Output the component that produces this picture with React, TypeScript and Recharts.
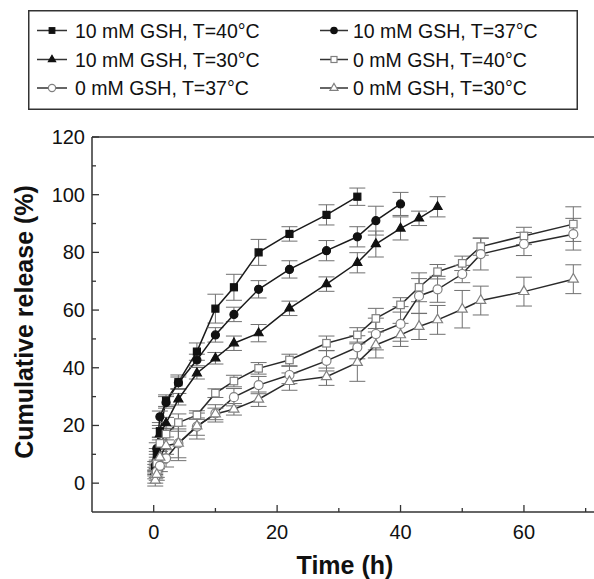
import React from "react";
import {
  LineChart,
  Line,
  XAxis,
  YAxis,
  ErrorBar,
  Legend,
  ReferenceLine,
} from "recharts";

const FONT = "'Liberation Sans', Arial, Helvetica, sans-serif";

// sampling times (h); shorter series use the first N entries
const times = [0.25, 0.5, 1, 2, 4, 7, 10, 13, 17, 22, 28, 33, 36, 40, 43, 46, 50, 53, 60, 68];

const gsh10_40 = [5, 10, 18, 28.6, 35, 45.6, 60.5, 67.9, 80, 86.4, 93, 99.3];
const gsh10_37 = [6, 12, 23, 28, 34.8, 42.7, 51.4, 58.5, 67.2, 74.1, 80.6, 85.4, 91, 96.8];
const gsh10_30 = [4, 9, 17, 20.8, 29.1, 38.1, 43.3, 48.5, 52, 60.6, 69, 76.4, 82.9, 88.3, 91.8, 95.8];
const gsh0_40 = [3, 7, 13.8, 17, 21, 23.6, 31.2, 35.4, 39.8, 42.7, 48.5, 51.4, 57.1, 61.8, 67.9, 73.3, 76.2, 82, 85.7, 89.8];
const gsh0_37 = [2, 4, 6, 8.6, 13.8, 19.6, 24.2, 29.8, 34, 37.5, 42.4, 47.1, 51.7, 55.2, 64.9, 67.2, 72.5, 79.4, 82.9, 86.3];
const gsh0_30 = [1, 3, 9, 13, 13.8, 19.8, 24, 25.6, 29.1, 35.2, 36.9, 41.8, 47.9, 51.4, 54.3, 56.6, 60.3, 63.3, 66.4, 70.7];

const err10_40 = [1.5, 2, 2, 2, 2.5, 3, 5, 4.5, 4.5, 2.5, 3.5, 3];
const err10_37 = [1.5, 2, 2, 2, 2, 2, 2.5, 2.5, 3, 3, 3.5, 3.5, 5, 4];
const err10_30 = [1.5, 2, 2, 2, 2, 2, 2, 2.5, 3, 2.5, 2.5, 3.5, 4.5, 4, 2.5, 3.5];
const err0_40 = [1.5, 2, 2, 2, 3, 1.5, 1.5, 2, 2, 2, 2.5, 2.5, 3.5, 2.5, 5, 2.5, 2.5, 3, 3, 6];
const err0_37 = [2, 2, 2, 3, 5, 3, 3, 3, 3, 3, 3.5, 4, 5.5, 6, 6, 4.5, 3, 5.5, 4, 5.5];
const err0_30 = [2, 2, 2, 3, 6, 4.5, 2, 2, 2.5, 3, 3, 6.5, 4.5, 4, 4.5, 5, 6.5, 5, 5, 5];

const yTicks = [0, 10, 20, 30, 40, 50, 60, 70, 80, 90, 100, 110, 120];
const xTicks = [0, 10, 20, 30, 40, 50, 60, 70];

type Shape = "square" | "circle" | "triangle";

interface SeriesDef {
  name: string;
  values: number[];
  errors: number[];
  shape: Shape;
  filled: boolean;
}

const series: SeriesDef[] = [
  { name: "10 mM GSH, T=40°C", values: gsh10_40, errors: err10_40, shape: "square", filled: true },
  { name: "10 mM GSH, T=37°C", values: gsh10_37, errors: err10_37, shape: "circle", filled: true },
  { name: "10 mM GSH, T=30°C", values: gsh10_30, errors: err10_30, shape: "triangle", filled: true },
  { name: "0 mM GSH, T=40°C", values: gsh0_40, errors: err0_40, shape: "square", filled: false },
  { name: "0 mM GSH, T=37°C", values: gsh0_37, errors: err0_37, shape: "circle", filled: false },
  { name: "0 mM GSH, T=30°C", values: gsh0_30, errors: err0_30, shape: "triangle", filled: false },
];

function Marker({
  cx,
  cy,
  shape,
  filled,
  scale = 1,
}: {
  cx: number;
  cy: number;
  shape: Shape;
  filled: boolean;
  scale?: number;
}) {
  if (cx == null || cy == null || isNaN(cx) || isNaN(cy)) return null;
  const fill = filled ? "#111" : "#fff";
  const stroke = filled ? "#111" : "#808080";
  const sw = 1.2;
  if (shape === "square") {
    const s = (filled ? 7 : 7.5) * scale;
    return <rect x={cx - s / 2} y={cy - s / 2} width={s} height={s} fill={fill} stroke={stroke} strokeWidth={sw} />;
  }
  if (shape === "circle") {
    const r = (filled ? 4 : 4.5) * scale;
    return <circle cx={cx} cy={cy} r={r} fill={fill} stroke={stroke} strokeWidth={sw} />;
  }
  const side = (filled ? 9 : 10) * scale;
  const h = side * 0.866;
  const pts = `${cx},${cy - (h * 2) / 3} ${cx - side / 2},${cy + h / 3} ${cx + side / 2},${cy + h / 3}`;
  return <polygon points={pts} fill={fill} stroke={stroke} strokeWidth={sw} />;
}

function LegendBox() {
  const rows = [20.5, 49.5, 78];
  const cols = [
    { x1: 9, x2: 39, tx: 47 },
    { x1: 292, x2: 320, tx: 325 },
  ];
  return (
    <svg width={550} height={100} style={{ display: "block" }}>
      <rect x={0.75} y={0.75} width={548.5} height={98.5} fill="#fff" stroke="#333" strokeWidth={1.5} />
      {series.map((s, i) => {
        const c = cols[i % 2];
        const y = rows[Math.floor(i / 2)];
        return (
          <g key={s.name}>
            <line x1={c.x1} x2={c.x2} y1={y} y2={y} stroke="#333" strokeWidth={1.5} />
            <Marker cx={(c.x1 + c.x2) / 2} cy={y} shape={s.shape} filled={s.filled} scale={0.8} />
            <text x={c.tx} y={y} dominantBaseline="central" fontSize={19.5} fontFamily={FONT} fill="#111">
              {s.name}
            </text>
          </g>
        );
      })}
    </svg>
  );
}

function YTick(props: any) {
  const { x, y, payload } = props;
  const major = payload.value % 20 === 0;
  return (
    <g>
      <line x1={x} x2={x + (major ? 7 : 4)} y1={y} y2={y} stroke="#333" strokeWidth={1.3} />
      {major && (
        <text x={x - 7} y={y} textAnchor="end" dominantBaseline="central" fontSize={20} fontFamily={FONT} fill="#111">
          {payload.value}
        </text>
      )}
    </g>
  );
}

function XTick(props: any) {
  const { x, y, payload } = props;
  const major = payload.value % 20 === 0;
  return (
    <g>
      <line x1={x} x2={x} y1={y} y2={y - (major ? 7 : 4)} stroke="#333" strokeWidth={1.3} />
      {major && (
        <text x={x} y={y + 20} textAnchor="middle" dominantBaseline="central" fontSize={20} fontFamily={FONT} fill="#111">
          {payload.value}
        </text>
      )}
    </g>
  );
}

export default function App() {
  const seriesData = series.map((s) =>
    s.values.map((v, i) => ({ t: times[i], v, err: s.errors[i] }))
  );

  return (
    <div style={{ position: "absolute", left: 0, top: 0, width: 594, height: 579, overflow: "hidden", background: "#fff" }}>
      <LineChart width={600} height={579} margin={{ top: 137, right: 2, bottom: 7, left: 0 }}>
        <XAxis
          type="number"
          dataKey="t"
          domain={[-10, 72]}
          ticks={xTicks}
          allowDataOverflow
          tick={<XTick />}
          tickLine={false}
          tickSize={0}
          tickMargin={0}
          height={60}
          axisLine={{ stroke: "#333", strokeWidth: 1.5 }}
          label={{
            value: "Time (h)",
            content: (p: any) => {
              const vb = p.viewBox;
              return (
                <text x={vb.x + vb.width / 2} y={565} textAnchor="middle" dominantBaseline="central" fontSize={25} fontWeight="bold" fontFamily={FONT} fill="#111">
                  Time (h)
                </text>
              );
            },
          }}
        />
        <YAxis
          type="number"
          dataKey="v"
          domain={[-10, 120]}
          ticks={yTicks}
          allowDataOverflow
          tick={<YTick />}
          tickLine={false}
          tickSize={0}
          tickMargin={0}
          width={92}
          axisLine={{ stroke: "#333", strokeWidth: 1.5 }}
          label={{
            value: "Cumulative release (%)",
            content: () => {
              const cy = 322;
              return (
                <text x={24} y={cy} transform={`rotate(-90, 24, ${cy})`} textAnchor="middle" dominantBaseline="central" fontSize={25} fontWeight="bold" fontFamily={FONT} fill="#111">
                  Cumulative release (%)
                </text>
              );
            },
          }}
        />
        <ReferenceLine y={120} stroke="#333" strokeWidth={1.5} />
        <Legend
          layout="vertical"
          align="center"
          verticalAlign="middle"
          content={() => <LegendBox />}
          wrapperStyle={{ position: "absolute", left: 28, top: 10, width: 550, height: 100 }}
        />
        {series.map((s, i) => (
          <Line
            key={s.name}
            data={seriesData[i]}
            dataKey="v"
            name={s.name}
            type="linear"
            stroke={s.filled ? "#1a1a1a" : "#2a2a2a"}
            strokeWidth={1.5}
            isAnimationActive={false}
            dot={(p: any) => (
              <Marker key={`${s.name}-${p.index}`} cx={p.cx} cy={p.cy} shape={s.shape} filled={s.filled} />
            )}
            activeDot={false}
          >
            <ErrorBar dataKey="err" direction="y" width={8} stroke="#707070" strokeWidth={1} isAnimationActive={false} />
          </Line>
        ))}
      </LineChart>
    </div>
  );
}
